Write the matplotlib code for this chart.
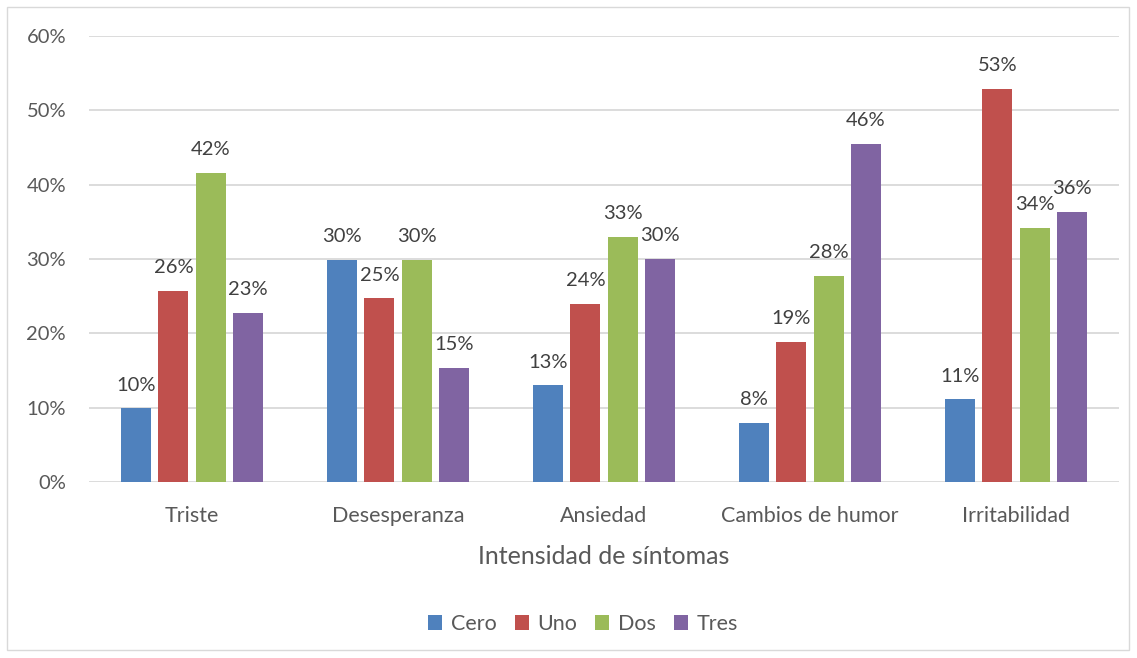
import numpy as np
import matplotlib.pyplot as plt
from matplotlib.patches import Rectangle

# Datos
sintomas = ['Triste', 'Desesperanza', 'Ansiedad', 'Cambios de humor', 'Irritabilidad']
niveles = ['Cero', 'Uno', 'Dos', 'Tres']
cero = [9.9, 29.9, 13.0, 7.9, 11.1]
uno = [25.7, 24.7, 24.0, 18.8, 52.9]
dos = [41.6, 29.9, 33.0, 27.7, 34.2]
tres = [22.7, 15.4, 30.0, 45.5, 36.3]
colores = ['#4F81BD', '#C0504D', '#9BBB59', '#8064A2']

plt.rcParams['font.family'] = ['Lato', 'DejaVu Sans']
gris = '#595959'

fig = plt.figure(figsize=(11.37, 6.58), dpi=100)
ax = fig.add_axes([89 / 1137, 1 - 482 / 658, 1030 / 1137, 446 / 658])

x = np.arange(len(sintomas))
ancho = 0.146
paso = 0.181
series = [cero, uno, dos, tres]
for i, (serie, nombre, color) in enumerate(zip(series, niveles, colores)):
    pos = x + (i - 1.5) * paso
    barras = ax.bar(pos, serie, ancho, color=color, label=nombre, zorder=3)
    for b, v in zip(barras, serie):
        ax.text(b.get_x() + b.get_width() / 2, v + 2.0, f'{v:.0f}%',
                ha='center', va='bottom', fontsize=14.5, color='#404040')

ax.set_xlim(-0.5, 4.5)
ax.set_ylim(0, 60)
ax.set_yticks(range(0, 61, 10))
ax.set_yticklabels([f'{t}%' for t in range(0, 61, 10)])
ax.set_xticks(x)
ax.set_xticklabels(sintomas)
ax.tick_params(length=0, colors=gris)
ax.tick_params(axis='x', pad=17, labelsize=15.5)
ax.tick_params(axis='y', pad=16.5, labelsize=14.5)
ax.grid(axis='y', color='#D9D9D9', linewidth=1.3, zorder=0)
for s in ax.spines.values():
    s.set_visible(False)
ax.set_xlabel('Intensidad de síntomas', fontsize=18, color=gris, labelpad=14)

fig.legend(loc='center', bbox_to_anchor=(583 / 1137, 1 - 624 / 658), ncol=4,
           frameon=False, fontsize=15.5, labelcolor=gris, handlelength=0.65,
           handleheight=0.65, handletextpad=0.4, columnspacing=0.85)

# Marco exterior
fig.patches.append(Rectangle((7 / 1137, 8 / 658), 1122 / 1137, 643 / 658,
                             transform=fig.transFigure, fill=False,
                             edgecolor='#D9D9D9', linewidth=1))

fig.savefig('out.png', dpi=100, facecolor='white')
